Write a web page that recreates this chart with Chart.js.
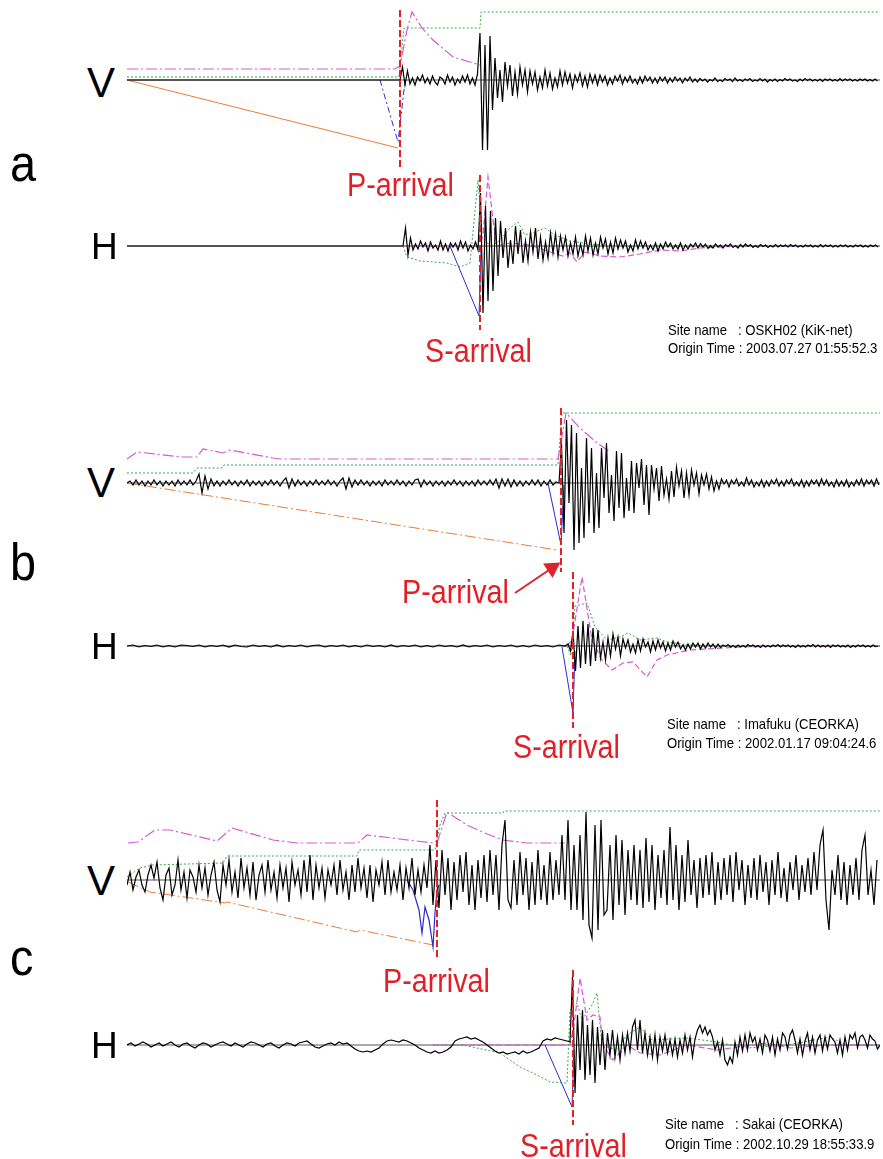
<!DOCTYPE html>
<html><head><meta charset="utf-8">
<script src="https://cdn.jsdelivr.net/npm/chart.js@4.4.1/dist/chart.umd.min.js"></script>
<style>
html,body{margin:0;padding:0;background:#fff;}
#page{position:relative;width:883px;height:1159px;overflow:hidden;background:#fff;}
canvas{position:absolute;}
.t{position:absolute;font-family:"Liberation Sans",Arial,sans-serif;line-height:1;white-space:pre;transform-origin:0 0;color:#000;}
.r{color:#e41e26;}
</style></head><body><div id="page"></div>
<script>
// ---------- time axis (common) ----------
const T_MAX = 753;

// ---------- Panel a : OSKH02 (KiK-net) ----------
const aV_P = 273;
const aV_black_t0 = 273, aV_black_dt = 2.5;
const aV_black = [0,13,-5,9,
 -4,2,-5,3,-1,5,-3,2,-4,4,-2,-5,3,1,-4,5,-2,3,-5,1,-3,4,-2,5,-4,2,
 -5,6,
 47,-70,35,-70,44,-30,
 22,-18,10,-22,18,-6,15,-16,8,-14,13,-5,10,-12,
 9,-4,8,-10,3,-8,10,-6,7,-9,2,-7,9,-5,8,-3,6,-8,5,-2,7,-6,4,-7,6,-3,5,-5,
 5,-2,4,-5,2,-4,4,-1,5,-4,3,-2,4,-3,1,-4,3,-3,4,-1,3,-3,2,-3,3,-1,3,-3,2,-2,3,-1,2,-3,2,-1,3,-2,1,-2,
 1.5,-1,1,-2,0.5,-1,2,-1.5,0,-1.5,1.5,-0.5,1,-1.5,2,-1,0.5,-1.5,1,-0.5,1.5,-1.5,0,-1,1.5,-1,1,-2,0.5,-1,
 1,-1.5,0.5,-1,1.5,-0.5,1,-1,0,-1.5,1,-1,1.5,-0.5,1,-1,0.5,-1,1,-1.5,1,-0.5,1,-1,0.5,-1,1.5,-1,1,-0.5,
 1,-1,0.5,-1,1,-0.5,1,-1,0.5,-1,1,-1];
const aV_pink = [[0,11],[268,11],[273,14],[280,50],[285,68],[295,52],[306,40],[326,23],[353,15]];
const aV_green = [[0,3],[272,3],[277,52],[353,52],[354,68],[753,68]];
const aV_orange = [[0,0],[271,-68]];
const aV_blue = [[253,0],[271,-62],[277,-10],[279,0]];

const aH_S = 353;
const aH_black_t0 = 276, aH_black_dt = 2.5;
const aH_black = [0,18,-9,8,
 -4,2,-3,5,-1,3,-5,4,-2,1,-4,5,-4,2,-5,3,-1,3,-4,5,-2,4,-5,1,-3,4,-4,
 53,-67,40,-55,35,-45,28,-30,
 25,-12,18,-22,6,-18,20,-8,16,-17,5,-15,14,-6,18,-13,9,-14,4,-12,13,-7,12,-11,
 10,-4,9,-10,3,-8,9,-10,2,-9,10,-5,8,-9,3,-8,9,-2,7,-8,4,-7,8,-3,
 6,-2,5,-6,1,-5,6,-3,5,-2,4,-4,1,-4,3,-5,2,-3,4,-1,3,-3,1,-3,3,-4,1,-3,2,-1,3,-2,
 2.5,-1,2,-2.5,0.5,-2,2,-1,1,-2,1.5,-0.5,2,-1.5,0.5,-2,1.5,-1,2,-0.5,1.5,-1.5,0.5,-1.5,1.5,-0.5,1,-1.5,0.5,-1,1.5,-1,
 1,-0.5,1,-1,1.5,-0.5,1,-1,0.5,-1,1,-0.5,1,-1,0.5,-1,1.5,-1,1,-0.5,1,-1,0.5,-1,1,-0.5,1,-1,0.5,-1,1,-0.5,1,-1,0.5,-1,1,-0.5,1,-1];
const aH_green = [[276,0],[280,-11],[293,-15],[320,-17],[333,-21],[343,-17],[351,66],[355,16],[363,-2],[373,6],[383,18],[391,24],[398,11],[408,14],[418,18],[428,11],[443,5],[463,2],[493,0],[753,0]];
const aH_pink = [[276,0],[353,0],[356,11],[361,69],[366,26],[370,0],[383,3],[403,1],[423,-6],[436,-10],[443,-7],[450,-16],[458,-6],[473,-10],[493,-11],[513,-8],[533,-4],[553,-5],[573,-2],[613,0],[753,0]];
const aH_blue = [[323,0],[352,-70],[354,-5]];

// ---------- Panel b : Imafuku (CEORKA) ----------
const bV_P = 434;
const bV_pre_t0 = 0, bV_pre_dt = 3;
const bV_pre = [0,2,-2,3,-2,2,-3,2,-2,3,-2,2,-3,2,-2,2,-3,3,-2,2,-2,3,-2,2,
 9,-10,7,-6,4,-3,
 2,-3,2,-2,3,-2,2,-3,2,-2,3,-3,2,-2,2,-3,2,-2,3,-2,2,-3,2,
 5,-5,4,-3,3,
 -2,2,-3,2,-2,3,-2,2,-2,3,-2,2,-3,2,
 5,-6,5,-4,3,
 -2,3,-2,2,-3,2,-2,2,-3,3,-2,2,-2,3,-2,2,-3,2,-2,3,4,-4,3,-2,2,-3,2,-2,2,-3,2,-2,3,-2,2,-3,2,-2,2,-3,3,-2,2,-2,3,-2,
 4,-5,4,-3,4,-4,
 3,-3,2,-3,2,-2,3,-2,3,-3,2,-2,3,-2,1];
const bV_post_t0 = 432, bV_post_dt = 2.5;
const bV_post = [0,40,-50,63,-20,58,-67,50,-60,15,-55,45,-40,35,-50,10,-45,
 35,-15,40,-30,8,-38,32,-25,30,-35,5,-28,22,-30,20,-5,24,-22,18,-32,
 18,-6,15,-18,17,-12,4,-16,12,-14,16,-3,12,-15,10,-12,13,-2,10,-11,
 8,-2,9,-6,6,-8,2,-6,
 4,-1,3,-4,3,-1,4,-3,1,-3,5,-2,3,-4,1,-3,3,-4,2,-3,3,-1,4,-3,2,-3,3,-1,4,-3,
 1,-3,3,-4,2,-3,3,-1,3,-3,4,-2,3,-3,1,-4,3,-3,2,-3,3,-4,1,-3,3,-2,4,-3,3,-1,3,-3,4,-2];
const bV_pink = [[0,24],[10,31],[55,26],[70,26],[76,34],[96,30],[103,33],[146,25],[153,24],[431,24],[439,70],[453,55],[470,40],[483,31]];
const bV_green = [[0,10],[66,10],[70,15],[95,15],[97,18],[431,18],[435,70],[753,70]];
const bV_orange = [[0,0],[430,-67]];
const bV_blue = [[421,0],[434,-62],[437,-2]];
const bV_arrow = [[388,-110],[425,-85]];

const bH_S = 446;
const bH_pre_t0 = 0, bH_pre_dt = 6;
const bH_pre = [0,1,-1,0.5,-0.5,1,-1,0.5,-1,1,0.5,-0.5,1,-1,0.5,-0.5,1,-1,1,-0.5,-1,1,-0.5,0.5,-1,1,-1,0.5,-0.5,1,
 -1,0.5,1,-1,0.5,-0.5,1,-1,0.5,-1,1,-0.5,0.5,-1,1,-1,0.5,-0.5,1,-1,0.5,-1,1,-0.5,0.5,-1,1,-1,0.5,-0.5,
 1,-1,0.5,-0.5,1,-1,0.5,-1,1,-0.5,0.5,-1,1,0];
const bH_post_t0 = 441, bH_post_dt = 2.5;
const bH_post = [2,-5,15,-25,20,-22,25,-18,22,-20,18,-15,16,
 -12,4,-14,8,-10,12,-3,9,-10,7,-2,6,
 -6,2,-7,6,-5,7,-1,4,-6,5,-4,6,-2,4,-5,3,-4,5,-1,4,
 -3,1,-4,2,-3,3,-1,3,-3,2,-2,3,-1,2,-2,2,
 -1.5,1,-0.5,1.5,-1,0.5,-1.5,1,-1,0.5,-1,1.5,-0.5,1,-1,0.5,-1.5,1,-1,0.5,-1,1,-0.5,1.5,-1,1,-0.5,1,-1,0.5,
 -1.5,1,-1,0.5,-1,1,-0.5,1.5,-1,1,-1,0.5,-1,1,-1.5,1,-0.5,1,-1,0.5,-1,1,-1.5,0.5,-1,1,-0.5,1,-1,0.5,-1,1,-0.5,0];
const bH_pink = [[440,0],[445,6],[455,69],[465,6],[475,-14],[485,-24],[496,-17],[506,-16],[520,-31],[530,-14],[540,-9],[563,-4],[613,-1],[653,0],[753,0]];
const bH_green = [[440,0],[444,-10],[448,40],[460,43],[468,19],[480,6],[493,9],[501,13],[513,6],[530,8],[540,4],[563,1],[600,0],[753,0]];
const bH_blue = [[435,-1],[446,-67],[448,-5]];

// ---------- Panel c : Sakai (CEORKA) ----------
const cV_P = 310;
const cV_black_t0 = 0, cV_black_dt = 3;
const cV_black = [-5,8,-10,3,10,-5,-12,5,15,2,
 18,-8,-20,5,12,-15,-5,20,-10,8,
 -18,10,3,-12,15,-8,12,-15,5,18,
 -10,-22,15,-5,20,-12,8,-18,22,-8,
 12,-15,18,-20,5,15,-12,20,-10,8,
 -18,15,-8,12,-22,18,-5,10,-15,20,
 -12,25,-20,15,-8,12,-18,10,-5,15,
 -15,20,-10,8,-20,15,-12,22,-8,12,
 -18,15,-22,10,-5,18,-15,20,-12,8,
 -10,15,-20,12,-8,22,-15,10,-12,15,
 -8,35,-25,20,-28,30,-15,22,-30,18,
 -20,25,-12,28,-25,15,-30,20,-18,25,
 -22,30,-15,25,-30,35,60,-20,-28,20,
 -25,28,-15,22,-30,18,-25,30,-20,15,
 -25,28,-20,20,-15,45,-20,60,-30,35,
 -30,45,-40,68,-45,-58,55,-50,60,-35,
 -30,35,-40,45,-25,40,-35,30,-20,35,
 -25,30,-28,42,-22,35,-30,25,-18,30,
 -25,53,-20,35,-30,25,-22,40,-15,20,
 -28,22,-18,25,-15,28,-25,18,-20,22,
 -15,25,-22,28,-10,20,-25,15,-18,22,
 -20,25,-12,18,-25,20,-15,28,-18,12,
 -22,18,-10,25,-20,15,-12,22,-15,28,
 -10,35,50,-20,-50,10,-15,25,-20,18,
 -25,15,-15,22,-20,30,45,-15,10,-25,
 20];
const cV_pink = [[1,37],[11,38],[28,50],[43,50],[90,39],[105,52],[146,40],[170,37],[231,37],[240,45],[306,37],[311,40],[320,68],[340,55],[360,46],[376,40],[400,37],[438,37]];
const cV_green = [[0,3],[13,12],[26,15],[96,17],[100,24],[230,24],[232,30],[308,30],[313,55],[318,67],[376,67],[377,69],[753,69]];
const cV_orange = [[1,-2],[23,-12],[98,-23],[100,-22],[230,-52],[233,-50],[306,-65],[309,-67]];
const cV_blue = [[280,0],[286,-10],[292,-30],[295,-53],[298,-27],[302,-40],[306,-67],[308,-33],[310,-10],[312,-5]];

const cH_S = 446;
const cH_pre_t0 = 0, cH_pre_dt = 4;
const cH_pre = [0,2,-1,1,3,1,-2,0,2,-1,
 1,3,0,-2,1,2,-1,-3,0,2,
 1,-2,0,2,3,1,-1,2,0,-2,
 1,3,2,0,-2,1,2,-1,-3,0,
 2,1,-1,2,3,4,1,-2,-3,-1,
 1,2,0,3,1,2,-1,-4,-6,-7,
 -6,-7,-5,-3,1,4,5,4,3,5,
 4,2,0,-3,-5,-7,-8,-6,-8,-7,
 -5,-2,4,6,7,8,6,7,5,3,
 0,-3,-6,-8,-7,-9,-8,-7,-9,-6,
 -8,-7,-5,-3,4,6,5,7,6,5,
 4];
const cH_post_t0 = 443, cH_post_dt = 2.5;
const cH_post = [3,68,-48,30,-25,35,-35,20,-30,25,-38,18,
 -20,15,-25,12,-10,15,-12,8,-15,10,-8,12,-6,18,25,-5,
 25,-8,12,-10,8,-12,10,-15,8,-6,10,-8,5,-10,6,-12,
 5,-8,10,-5,8,-12,6,15,20,12,18,10,15,8,-5,3,
 -10,5,-15,-20,-12,-18,3,-10,8,-6,10,-5,12,3,8,-5,
 6,-8,10,5,-6,8,-10,6,-5,12,8,-4,10,15,5,-8,
 6,-10,4,12,-5,8,-8,5,10,-6,8,-4,10,6,3,-8,
 5,-10,8,-5,10,6,12,-3,8,10,5,-3,10,6,4,-4,0];
const cH_pink = [[306,0],[443,0],[447,20],[453,67],[460,25],[466,30],[473,28],[476,0],[486,-15],[500,0],[513,-8],[533,-10],[560,0],[590,-5],[640,2],[663,-3],[700,0],[753,0]];
const cH_green = [[306,0],[336,0],[373,-8],[393,-22],[406,-28],[423,-37],[440,-38],[443,35],[450,42],[455,25],[465,40],[470,52],[475,0],[490,-5],[500,10],[513,18],[525,5],[560,7],[590,3],[620,-3],[660,0],[703,8],[720,0],[753,0]];
const cH_blue = [[418,0],[445,-62],[447,-5]];

// ---------- texts ----------
const siteA = ['Site name', ': OSKH02 (KiK-net)', 'Origin Time : 2003.07.27 01:55:52.3'];
const siteB = ['Site name', ': Imafuku (CEORKA)', 'Origin Time : 2002.01.17 09:04:24.6'];
const siteC = ['Site name', ': Sakai (CEORKA)', 'Origin Time : 2002.10.29 18:55:33.9'];

// ================= rendering =================
const page = document.getElementById('page');
const COL = {black:'#000', base:'#555', red:'#dd2428', pink:'#d65ad6', green:'#3aa84a', orange:'#ea7d3c', blue:'#2b2bd6'};
const DASHDOT = [11,3,2,3], DOT = [2,2], DASH = [6,3];

function series(t0, dt, vals){ return vals.map((v,i)=>({x:t0+i*dt, y:v})); }
function pts(arr){ return arr.map(p=>({x:p[0], y:p[1]})); }
function ds(data, color, width, dash, extra){
  return Object.assign({data, borderColor:color, backgroundColor:color, borderWidth:width, borderDash:dash||[], fill:false, pointRadius:0, tension:0}, extra||{});
}
function vline(t, y1, y2){ return ds(pts([[t,y1],[t,y2]]), COL.red, 2, [7,3]); }
function baseline(){ return ds(pts([[0,0],[T_MAX,0]]), COL.base, 1, []); }

function makeChart(top, height, ymax, datasets){
  const c = document.createElement('canvas');
  c.width = 753; c.height = height;
  c.style.left = '127px'; c.style.top = top + 'px';
  c.style.width = '753px'; c.style.height = height + 'px';
  page.appendChild(c);
  new Chart(c, {type:'line', data:{datasets}, options:{
    responsive:false, animation:false, devicePixelRatio:1, events:[],
    layout:{padding:0, autoPadding:false},
    plugins:{legend:{display:false}, tooltip:{enabled:false}},
    scales:{x:{type:'linear', display:false, min:0, max:T_MAX}, y:{type:'linear', display:false, min:ymax-height, max:ymax}},
    elements:{point:{radius:0}, line:{tension:0}}
  }});
}

// panel a V (baseline y=80)
makeChart(0, 180, 80, [
  vline(aV_P, 70, -90),
  ds(pts([[0,0],[aV_black_t0,0]]).concat(series(aV_black_t0, aV_black_dt, aV_black)), COL.black, 1.2),
  ds(pts(aV_blue), COL.blue, 1, [6,3,2,3]),
  ds(pts(aV_pink), COL.pink, 1.2, DASHDOT),
  ds(pts(aV_green), COL.green, 1, DOT),
  ds(pts(aV_orange), COL.orange, 1),
  baseline()
]);
// panel a H (baseline y=246)
makeChart(160, 200, 86, [
  vline(aH_S, 71, -84),
  ds(pts([[0,0],[aH_black_t0,0]]).concat(series(aH_black_t0, aH_black_dt, aH_black)), COL.black, 1.2),
  ds(pts(aH_blue), COL.blue, 1),
  ds(pts(aH_pink), COL.pink, 1.2, DASH),
  ds(pts(aH_green), COL.green, 1, DOT),
  baseline()
]);
// panel b V (baseline y=483)
makeChart(400, 200, 83, [
  vline(bV_P, 75, -89),
  ds(pts(bV_arrow), COL.red, 2, [], {pointRadius:[0,8], pointStyle:'triangle', pointRotation:57, pointBackgroundColor:COL.red, pointBorderColor:COL.red}),
  ds(series(bV_pre_t0, bV_pre_dt, bV_pre).concat(series(bV_post_t0, bV_post_dt, bV_post)), COL.black, 1.2),
  ds(pts(bV_blue), COL.blue, 1),
  ds(pts(bV_pink), COL.pink, 1.2, DASHDOT),
  ds(pts(bV_green), COL.green, 1, DOT),
  ds(pts(bV_orange), COL.orange, 1, DASHDOT),
  baseline()
]);
// panel b H (baseline y=646)
makeChart(560, 190, 86, [
  vline(bH_S, 74, -82),
  ds(series(bH_pre_t0, bH_pre_dt, bH_pre).concat(series(bH_post_t0, bH_post_dt, bH_post)), COL.black, 1.2),
  ds(pts(bH_blue), COL.blue, 1),
  ds(pts(bH_pink), COL.pink, 1.2, DASH),
  ds(pts(bH_green), COL.green, 1, DOT),
  baseline()
]);
// panel c V (baseline y=880)
makeChart(790, 180, 90, [
  vline(cV_P, 80, -80),
  ds(series(cV_black_t0, cV_black_dt, cV_black), COL.black, 1.2),
  ds(pts(cV_blue), COL.blue, 1.2),
  ds(pts(cV_pink), COL.pink, 1.2, DASHDOT),
  ds(pts(cV_green), COL.green, 1, DOT),
  ds(pts(cV_orange), COL.orange, 1, DASHDOT),
  baseline()
]);
// panel c H (baseline y=1045)
makeChart(955, 190, 90, [
  vline(cH_S, 75, -80),
  ds(series(cH_pre_t0, cH_pre_dt, cH_pre).concat(series(cH_post_t0, cH_post_dt, cH_post)), COL.black, 1.2),
  ds(pts(cH_blue), COL.blue, 1),
  ds(pts(cH_pink), COL.pink, 1.2, DASH),
  ds(pts(cH_green), COL.green, 1, DOT),
  baseline()
]);

// ---------- text ----------
function txt(s, x, base, f, sx, cls){
  const d = document.createElement('div');
  d.className = 't' + (cls ? ' ' + cls : '');
  d.textContent = s;
  d.style.fontSize = f + 'px';
  d.style.left = x + 'px';
  d.style.top = (base - 0.8465 * f) + 'px';
  d.style.transform = 'scaleX(' + sx + ')';
  page.appendChild(d);
}
const panelsText = [
  {V:98, H:259, L:'a', Lb:181, P:[347,196], S:[425,362], site:siteA, sb:[335,353], sx:668},
  {V:498, H:659, L:'b', Lb:580, P:[402,603], S:[513,758], site:siteB, sb:[729,748], sx:667},
  {V:896, H:1058, L:'c', Lb:975, P:[383,992], S:[520,1157], site:siteC, sb:[1129,1149], sx:665}
];
panelsText.forEach(p=>{
  txt('V', 87, p.V, 42, 1.0);
  txt('H', 91, p.H, 37, 1.0);
  txt(p.L, 10, p.Lb, 52, 0.9);
  txt('P-arrival', p.P[0], p.P[1], 33, 0.87, 'r');
  txt('S-arrival', p.S[0], p.S[1], 33, 0.87, 'r');
  txt(p.site[0], p.sx, p.sb[0], 15, 0.875);
  txt(p.site[1], p.sx + 70, p.sb[0], 15, 0.875);
  txt(p.site[2], p.sx, p.sb[1], 15, 0.875);
});
</script></body></html>
